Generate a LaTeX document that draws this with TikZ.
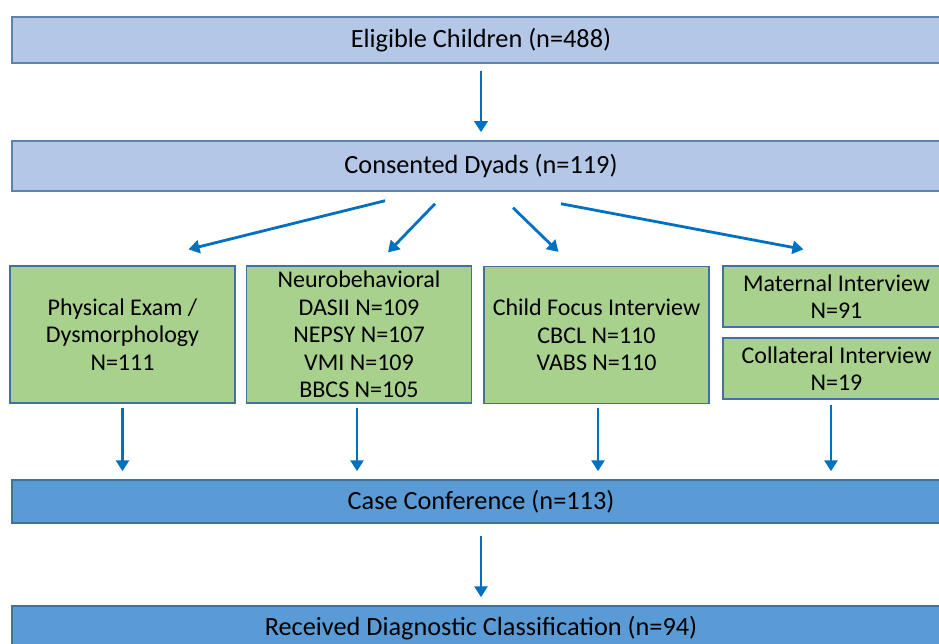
\documentclass[tikz,border=0pt]{standalone}
\usepackage{fontspec}
\setmainfont{Carlito}
\usetikzlibrary{calc,arrows.meta}
\definecolor{paleblue}{HTML}{B4C7E7}
\definecolor{edgeblue}{HTML}{5E82AE}
\definecolor{palegreen}{HTML}{A9D18E}
\definecolor{deepblue}{HTML}{5B9BD5}
\definecolor{rimblue}{HTML}{41719C}
\definecolor{arrowblue}{HTML}{0070C0}

\begin{document}
\begin{tikzpicture}[x=1pt,y=-1pt,
    stage/.style ={rectangle, draw=edgeblue, fill=paleblue, line width=1.5pt,
      minimum width=938pt, inner sep=0pt, font=\fontsize{26.3}{30}\selectfont},
    measure/.style ={rectangle, draw=rimblue, fill=palegreen, line width=1.2pt,
      minimum width=225pt, minimum height=137pt, inner sep=0pt, align=center,
      font=\fontsize{24}{27.5}\selectfont},
    result/.style ={stage, draw=rimblue, fill=deepblue},
    flow/.style ={draw=arrowblue, line width=2.8pt,
      -{Triangle[width=13pt,length=11pt]}}]
   \useasboundingbox (0,0) rectangle (939,644);
   \node[stage, minimum height=46pt] (eligible) at (481,40) {Eligible Children (n=488)};
   \node[stage, minimum height=50pt] (consent) at (481,166) {Consented Dyads (n=119)};
   \node[measure] (phys) at (122.5,334.5) {Physical Exam /\\Dysmorphology\\N=111};
   \node[measure] (neuro) at (359,334.5) {Neurobehavioral\\DASII N=109\\NEPSY N=107\\VMI N=109\\BBCS N=105};
   \node[measure] (child) at (596.5,335) {Child Focus Interview\\CBCL N=110\\VABS N=110};
   \node[measure, minimum width=227pt, minimum height=61pt] (mat) at (836.5,296.5) {Maternal Interview\\N=91};
   \node[measure, minimum width=227pt, minimum height=61pt] (coll) at (836.5,368.5) {Collateral Interview\\N=19};
   \node[result, minimum height=43pt] (case) at (481,501.5) {Case Conference (n=113)};
   \node[result, minimum height=44pt] (recv) at (481,628) {Received Diagnostic Classification (n=94)};
   \draw[flow, shorten <=7pt, shorten >=8pt] (eligible) to (consent);
   \draw[flow] ($(consent.south)+(-96,9)$) to ($(phys.north)+(66,-16)$);
   \draw[flow] ($(consent.south)+(-46,12)$) to ($(neuro.north)+(29,-13)$);
   \draw[flow] ($(consent.south)+(32,16)$) to ($(child.north)+(-38,-14)$);
   \draw[flow] ($(consent.south)+(80,12)$) to ($(mat.north)+(-33,-16)$);
   \draw[flow, shorten <=4pt, shorten >=8pt] (phys.south) to (phys.south |- case.north);
   \draw[flow, shorten <=4pt, shorten >=8pt] ($(neuro.south)+(-2,0)$) to ($(neuro.south |- case.north)+(-2,0)$);
   \draw[flow, shorten <=4pt, shorten >=8pt] ($(child.south)+(1.5,0)$) to ($(child.south |- case.north)+(1.5,0)$);
   \draw[flow, shorten <=5pt, shorten >=8pt] ($(coll.south)+(-5.5,0)$) to ($(coll.south |- case.north)+(-5.5,0)$);
   \draw[flow, shorten <=12pt, shorten >=8pt] (case) to (recv);
 \end{tikzpicture}
\end{document}
